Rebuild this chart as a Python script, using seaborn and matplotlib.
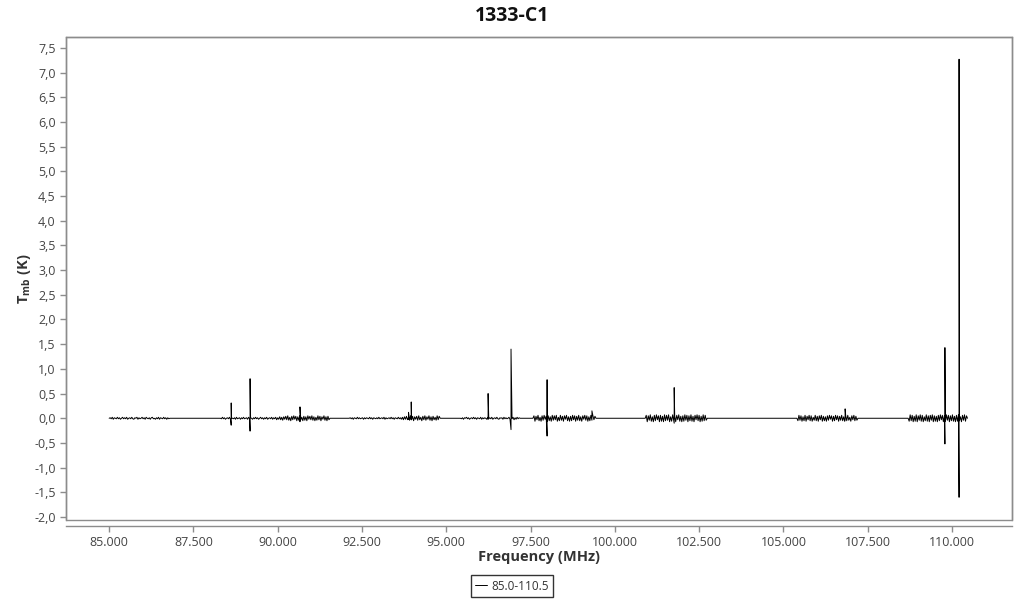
import numpy as np
import pandas as pd
import matplotlib
matplotlib.use("Agg")
import matplotlib.pyplot as plt
from matplotlib.patches import Rectangle
from matplotlib.ticker import FuncFormatter, MultipleLocator
import seaborn as sns

# spectral windows (MHz) observed in the 85.0-110.5 band
seg_start = [85.00, 88.30, 92.12, 95.42, 97.57, 100.90, 105.40, 108.70]
seg_end = [86.80, 91.55, 94.82, 97.19, 99.44, 102.74, 107.21, 110.46]

# baseline noise per window, in units of 0.01 K
noise_1 = [0, 1, -1, 2, -2, 1, 0, -1, 2, -1, 1, -2, 0, 2, -1, 1, -1, 2, -2, 0, 1, -1, 2, -1, -2, 1, 0, 2, -2, 1,
           -1, 0, 2, -1, 1, -2, 2, 0, -1, 1, -2, 1, 2, -1, 0, -2, 1, -1, 2, -2, 1, 0, -1, 2, -1, 1, -2, 1, -1, 0]
noise_2 = [0, -1, 2, -1, 1, -2, 0, 1, -1, 2, -2, 1, 0, -1, 1, -2, 2, -1, 0, 1, -2, 1, -1, 2, -1, 0, 1, -2, 2, -1,
           1, 0, -2, 1, -1, 2, -1, 1, -2, 0, 2, -1, 1, -2, 1, -1, 2, -2, 0, 1, -1, 2, -2, 1, -1, 2, -3, 1, -2, 3,
           -3, 2, -4, 3, -2, 4, -3, 5, -4, 2, -5, 4, -3, 5, -2, 4, -5, 3, -4, 5, -3, 2, -5, 4, -4, 3, -5, 5, -2, 4,
           -3, 5, -4, 3, -5, 2, -4, 5, -3, 4, -5, 3, -2, 5, -4, 3, -5, 4, -3, 0]
noise_3 = [0, 1, -1, 1, -2, 1, 0, -1, 2, -1, 1, -1, 0, 1, -2, 1, -1, 1, 0, -1, 2, -1, 1, -2, 1, 0, -1, 1, -1, 2,
           -1, 0, 1, -1, 2, -2, 1, -1, 0, 1, -1, 2, -1, 1, -2, 1, 0, -1, 2, -1, 1, -2, 2, -3, 3, -2, 4, -3, 2, -4,
           5, -3, 4, -5, 3, -2, 4, -4, 5, -3, 2, -5, 4, -3, 5, -4, 3, -2, 5, -4, 3, -5, 4, -3, 2, -4, 5, -3, 4, 0]
noise_4 = [0, -1, 1, -2, 1, 0, 2, -1, 1, -2, 0, 1, -1, 2, -1, 1, -2, 1, 0, -1, 2, -2, 1, -1, 1, 0, -2, 2, -1, 1,
           -1, 2, -2, 0, 1, -1, 2, -1, -2, 1, 0, 1, -2, 2, -1, 1, -1, 0, 2, -2, 1, -1, 2, -3, 1, -2, 2, -1, 1, 0]
noise_5 = [0, 5, -6, 4, -3, 6, -5, 2, -6, 5, -4, 6, -2, 4, -6, 5, -5, 3, -6, 6, -4, 5, -3, 6, -6, 2, -5, 6, -4, 4,
           -6, 5, -2, 6, -5, 3, -6, 4, -5, 6, -3, 5, -6, 4, -4, 6, -5, 3, -6, 5, -2, 6, -4, 5, -6, 3, -5, 6, -4, 5,
           -3, 4, 0]
noise_6 = [0, 6, -7, 5, -4, 7, -6, 3, -7, 6, -5, 7, -3, 5, -7, 6, -6, 4, -7, 7, -5, 6, -4, 7, -7, 3, -6, 7, -5, 5,
           -7, 6, -3, 7, -6, 4, -7, 5, -6, 7, -4, 6, -7, 5, -5, 7, -6, 4, -7, 6, -3, 7, -5, 6, -7, 4, -6, 7, -5, 6,
           -4, 0]
noise_7 = [0, -5, 6, -4, 5, -6, 3, -5, 6, -6, 4, -3, 6, -5, 5, -6, 2, -4, 6, -5, 4, -6, 5, -3, 6, -6, 4, -5, 3, -6,
           5, -4, 6, -2, 5, -6, 4, -5, 6, -3, 5, -6, 4, -4, 6, -5, 3, -6, 5, -5, 6, -4, 2, -6, 5, -3, 6, -5, 4, -4,
           0]
noise_8 = [0, -6, 7, -5, 6, -7, 4, -6, 7, -7, 5, -4, 7, -6, 6, -7, 3, -5, 7, -6, 5, -7, 6, -4, 7, -7, 5, -6, 4, -7,
           6, -5, 7, -3, 6, -7, 5, -6, 7, -4, 6, -7, 5, -5, 7, -6, 4, -7, 6, -6, 7, -5, 3, -7, 6, -4, 7, -6, 5, 0]
seg_noise = [noise_1, noise_2, noise_3, noise_4, noise_5, noise_6, noise_7, noise_8]

# emission / absorption features (K)
line_freq = [88.62, 89.18, 90.66, 93.88, 93.96, 96.24, 96.92, 97.99, 99.32, 101.76, 106.83, 109.79, 110.21]
line_low = [-0.14, -0.26, -0.07, -0.02, -0.03, -0.02, -0.23, -0.36, -0.04, -0.10, -0.03, -0.52, -1.60]
line_high = [0.31, 0.80, 0.23, 0.12, 0.33, 0.50, 1.40, 0.78, 0.15, 0.62, 0.19, 1.43, 7.27]

series_name = "85.0-110.5"
title = "1333-C1"

# build spectrum table
parts = []
for f0, f1, vals in zip(seg_start, seg_end, seg_noise):
    parts.append(pd.DataFrame({"freq": np.linspace(f0, f1, len(vals)), "tmb": np.array(vals) / 100}))
for f, lo, hi in zip(line_freq, line_low, line_high):
    parts.append(pd.DataFrame({"freq": [f, f + 1e-6], "tmb": [lo, hi]}))
spec = pd.concat(parts).sort_values("freq").reset_index(drop=True)
spec["band"] = series_name

sns.set_theme(style="white")
plt.rcParams["font.family"] = ["Open Sans", "DejaVu Sans"]
plt.rcParams["mathtext.fontset"] = "custom"
plt.rcParams["mathtext.rm"] = "Open Sans"
plt.rcParams["mathtext.bf"] = "Open Sans:bold"

fig = plt.figure(figsize=(10.24, 6), dpi=100)
ax = fig.add_axes([66 / 1024, 1 - 520 / 600, 946 / 1024, 483 / 600])

sns.lineplot(data=spec, x="freq", y="tmb", hue="band", palette=["black"],
             sort=False, estimator=None, linewidth=0.7, ax=ax)

ax.set_xlim(83.72, 111.78)
ax.set_ylim(-2.06, 7.72)
ax.xaxis.set_major_locator(MultipleLocator(2.5))
ax.yaxis.set_major_locator(MultipleLocator(0.5))
ax.xaxis.set_major_formatter(FuncFormatter(lambda v, p: f"{v:.3f}"))
ax.yaxis.set_major_formatter(FuncFormatter(lambda v, p: f"{v:.1f}".replace(".", ",")))

grey = "#8c8c8c"
for s in ax.spines.values():
    s.set_color(grey)
    s.set_linewidth(1)
ax.spines["bottom"].set_position(("outward", 4))
ax.add_patch(Rectangle((0, 0), 1, 1, transform=ax.transAxes, fill=False,
                       edgecolor=grey, linewidth=1, clip_on=False))
ax.tick_params(axis="both", which="major", length=4, width=1, color=grey,
               labelsize=9, labelcolor="#444444", bottom=True, left=True)

ax.set_xlabel("Frequency (MHz)", fontsize=10.5, fontweight="bold", color="#333333", labelpad=1)
ax.set_ylabel(r"$\mathbf{T_{mb}}$ (K)", fontsize=10.5, fontweight="bold", color="#333333", labelpad=1)
fig.suptitle(title, y=1 - 16 / 600, va="center", fontsize=14, fontweight="bold", color="#111111")

leg = ax.legend(loc="center", bbox_to_anchor=(0.5, 1 - 586 / 600), bbox_transform=fig.transFigure,
                frameon=True, fancybox=False, fontsize=8.5, handlelength=1.0, handletextpad=0.4,
                borderpad=0.35, title=None)
leg.get_frame().set_edgecolor("black")
leg.get_frame().set_linewidth(1)
for t in leg.get_texts():
    t.set_color("#333333")

fig.savefig("out.png", dpi=100)
